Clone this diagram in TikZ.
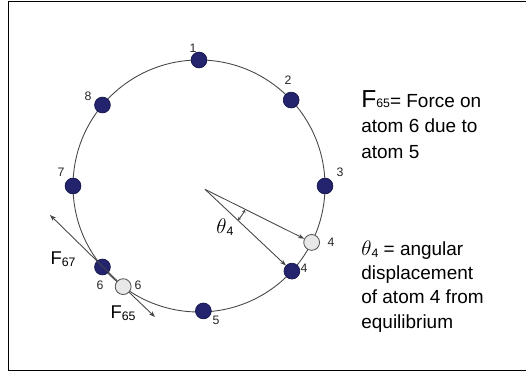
\documentclass[tikz,border=0pt]{standalone}
\usepackage{fontspec}
\setmainfont{Liberation Sans}
\definecolor{AtomBlue}{RGB}{35, 35, 110}
\definecolor{RingGray}{RGB}{70, 70, 70}
\usetikzlibrary{arrows.meta}

\begin{document}
\begin{tikzpicture}[
    x=0.02cm, y=0.02cm,
    every node/.style={inner sep=0pt},
    atom/.style={circle, fill=AtomBlue, draw=AtomBlue!70!black, minimum size=9pt},
    ghost/.style={circle, fill=gray!18, draw=gray!70!black, line width=0.5pt, minimum size=9pt},
    num/.style={font=\fontsize{7}{7}\selectfont, text=black!85},
    force/.style={draw=RingGray, line width=0.5pt, -{Stealth[length=3.5pt, width=2.5pt]}},
    big/.style={font=\fontsize{10.5}{10.5}\selectfont},
    legend/.style={anchor=base west, align=left}
]
\useasboundingbox (0,0) rectangle (526,372);
% frame
\draw[line width=1.1pt] (530,370.5) -- (8.5,370.5) -- (8.5,1.5) -- (530,1.5);

% ring and atoms
\coordinate (c) at (199,186);
\draw[RingGray, line width=0.5pt] (c) circle[radius=126];
\node[atom] (a1) at ([shift={(90:126)}]c) {};
\node[atom] (a2) at ([shift={(43:126)}]c) {};
\node[atom] (a3) at ([shift={(0:126)}]c) {};
\node[ghost] (a4e) at ([shift={(-26.6:126)}]c) {};
\node[atom] (a4) at ([shift={(-42.5:126)}]c) {};
\node[atom] (a5) at ([shift={(-88:125)}]c) {};
\node[ghost] (a6e) at ([shift={(-127:126)}]c) {};
\node[atom] (a6) at ([shift={(-140:126)}]c) {};
\node[atom] (a7) at ([shift={(180:126)}]c) {};
\node[atom] (a8) at ([shift={(140:126)}]c) {};

\node[num] (n1) at (193,324) {1};
\node[num] (n2) at (288,292) {2};
\node[num] (n3) at (340,200) {3};
\node[num] (n4e) at (331,130) {4};
\node[num] (n4) at (304,104) {4};
\node[num] (n5) at (216,52) {5};
\node[num] (n6e) at (138,87) {6};
\node[num] (n6) at (100,87) {6};
\node[num] (n7) at (61,200) {7};
\node[num] (n8) at (88,276) {8};

% angular displacement of atom 4
\coordinate (o) at (205,182.7);
\draw[force] (o) -- (a4e);
\draw[force] (o) -- (a4);
\draw[RingGray, line width=0.5pt, {Stealth[length=2pt, width=2pt]}-{Stealth[length=2pt, width=2pt]}]
    ([shift={(-43.4:45)}]o) arc[start angle=-43.4, end angle=-26.6, radius=45];
\node (th) at (225,145) {{\fontsize{11.5}{11.5}\selectfont$\theta$}\raisebox{-1pt}{\fontsize{7}{7}\selectfont 4}};

% forces on atom 6
\coordinate (f67) at (50,157);
\coordinate (f65) at (155,55);
\draw[force] (a6e) -- (f67);
\draw[force] (a6e) -- (f65);
\node[big] (l67) at (63,113) {F\raisebox{-1pt}{\fontsize{7}{7}\selectfont 67}};
\node[big] (l65) at (123,59) {F\raisebox{-1pt}{\fontsize{7}{7}\selectfont 65}};

% legend
\node[legend, font=\fontsize{10.8}{14.5}\selectfont] (legF) at (361,214)
    {{\fontsize{14}{14}\selectfont F}\raisebox{-0.5pt}{\fontsize{7}{7}\selectfont 65}= Force on\\
     atom 6 due to\\ atom 5};
\node[legend, font=\fontsize{10.8}{13.8}\selectfont] (legT) at (361,44)
    {{\fontsize{12}{12}\selectfont$\theta$}\raisebox{-1pt}{\fontsize{7}{7}\selectfont 4} = angular\\
     displacement\\ of atom 4 from\\ equilibrium};
\end{tikzpicture}
\end{document}
